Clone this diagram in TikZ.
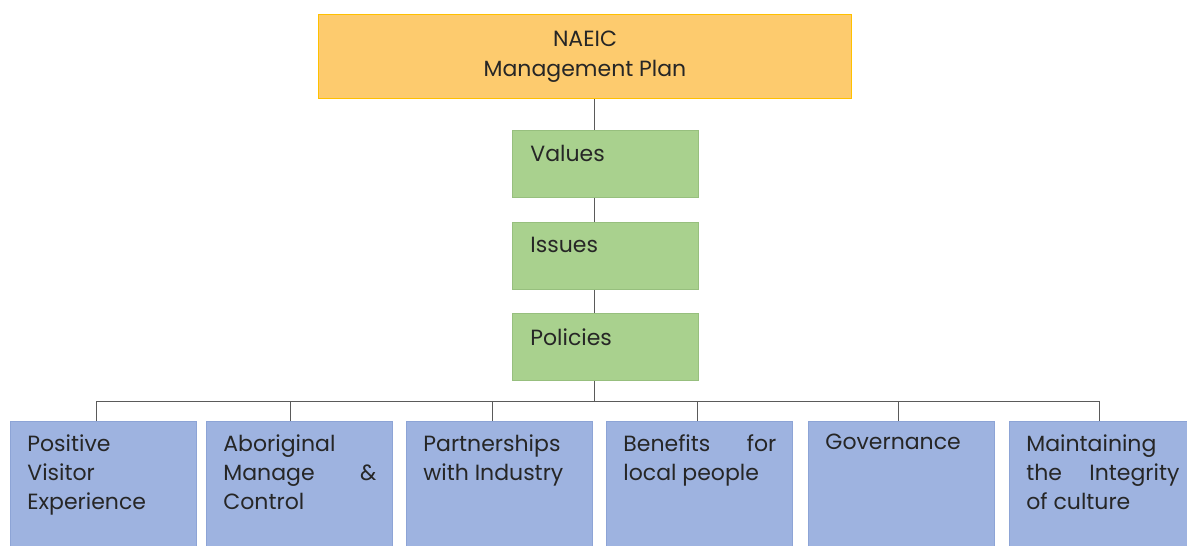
\documentclass[tikz,border=0pt]{standalone}
\usepackage{fontspec}
\setmainfont{Poppins}
\definecolor{topfill}{HTML}{FDCB6E}
\definecolor{topline}{HTML}{FFC000}
\definecolor{greenfill}{HTML}{A9D18E}
\definecolor{greenline}{HTML}{97BF7E}
\definecolor{bluefill}{HTML}{9EB3E0}
\definecolor{blueline}{HTML}{8DA4D6}
\definecolor{txt}{HTML}{262626}
\definecolor{conn}{HTML}{5A5A5A}
\tikzset{
  topbox/.style={draw=topline, line width=1pt, fill=topfill, anchor=north west, inner sep=0pt, text=txt, font=\fontsize{22}{30}\selectfont},
  greenbox/.style={draw=greenline, line width=0.8pt, fill=greenfill, anchor=north west, inner sep=0pt, text=txt, font=\fontsize{22}{29}\selectfont},
  bluebox/.style={draw=blueline, line width=0.8pt, fill=bluefill, anchor=north west, inner sep=0pt, text=txt, font=\fontsize{22}{29}\selectfont},
  connector/.style={draw=conn, line width=0.9pt}
}
\newcommand{\topcell}[3]{\parbox[c][#2pt][c]{#1pt}{\centering #3}}
\newcommand{\greencell}[3]{\parbox[c][#2pt][t]{#1pt}{\vspace*{15pt}\leftskip=18pt\parindent=0pt #3}}
\newcommand{\bluecell}[3]{\parbox[c][#2pt][t]{#1pt}{\vspace*{13pt}\leftskip=17pt\rightskip=16pt\parindent=0pt #3}}
\begin{document}
\begin{tikzpicture}[x=1pt,y=-1pt]
\useasboundingbox (0,0) rectangle (1187,546);
\clip (0,0) rectangle (1187,546);
\fill[white] (0,0) rectangle (1187,546);
% top
\node[topbox] (plan) at (318,14) {\topcell{533}{84}{NAEIC\\Management Plan}};
% green
\node[greenbox] (values) at (512,130) {\greencell{186}{67}{Values}};
\node[greenbox] (issues) at (512,222) {\greencell{186}{67}{Issues}};
\node[greenbox] (policies) at (512,313) {\greencell{186}{67}{Policies}};
% blue
\node[bluebox] (b1) at (10,421) {\bluecell{186}{130}{Positive\\Visitor\\Experience}};
\node[bluebox] (b2) at (206,421) {\bluecell{186}{130}{Aboriginal\\Manage\hfill\&\\Control}};
\node[bluebox] (b3) at (406,421) {\bluecell{186}{130}{Partnerships\\with Industry}};
\node[bluebox] (b4) at (606,421) {\bluecell{186}{130}{Benefits\hfill for\\local people}};
\node[bluebox] (b5) at (808,421) {\bluecell{186}{130}{Governance}};
\node[bluebox] (b6) at (1009,421) {\bluecell{186}{130}{Maintaining\\the\hfill Integrity\\of culture}};
% connectors
\coordinate (bus) at (594,401);
\draw[connector] (plan.south -| 594,0) -- (values.north -| 594,0);
\draw[connector] (values.south -| 594,0) -- (issues.north -| 594,0);
\draw[connector] (issues.south -| 594,0) -- (policies.north -| 594,0);
\draw[connector] (policies.south -| 594,0) -- (bus);
\draw[connector] (96,401) -- (1099,401);
\draw[connector] (96,401) -- (b1.north -| 96,0);
\draw[connector] (290,401) -- (b2.north -| 290,0);
\draw[connector] (492,401) -- (b3.north -| 492,0);
\draw[connector] (697,401) -- (b4.north -| 697,0);
\draw[connector] (898,401) -- (b5.north -| 898,0);
\draw[connector] (1099,401) -- (b6.north -| 1099,0);
\end{tikzpicture}
\end{document}
